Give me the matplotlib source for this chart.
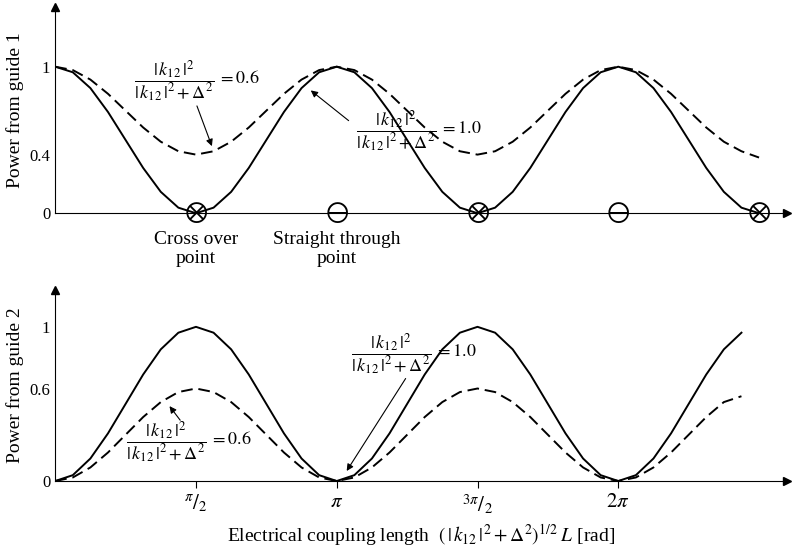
import numpy as np
import matplotlib.pyplot as plt

plt.rcParams['font.family'] = ['Liberation Serif', 'DejaVu Serif']
plt.rcParams['mathtext.fontset'] = 'stix'

# values read at steps of pi/16
step = np.pi / 16
top_solid = [1, .962, .854, .691, .5, .309, .146, .038, 0, .038, .146, .309, .5, .691, .854, .962,
             1, .962, .854, .691, .5, .309, .146, .038, 0, .038, .146, .309, .5, .691, .854, .962,
             1, .962, .854, .691, .5, .309, .146, .038, 0]
top_dash = [1, .977, .912, .815, .7, .585, .488, .423, .4, .423, .488, .585, .7, .815, .912, .977,
            1, .977, .912, .815, .7, .585, .488, .423, .4, .423, .488, .585, .7, .815, .912, .977,
            1, .977, .912, .815, .7, .585, .488, .423, .38]
bot_solid = [0, .038, .146, .309, .5, .691, .854, .962, 1, .962, .854, .691, .5, .309, .146, .038,
             0, .038, .146, .309, .5, .691, .854, .962, 1, .962, .854, .691, .5, .309, .146, .038,
             0, .038, .146, .309, .5, .691, .854, .962]
bot_dash = [0, .023, .088, .185, .3, .415, .512, .577, .6, .577, .512, .415, .3, .185, .088, .023,
            0, .023, .088, .185, .3, .415, .512, .577, .6, .577, .512, .415, .3, .185, .088, .023,
            0, .023, .088, .185, .3, .415, .512, .55]
cross_x = [0.5, 1.5, 2.5]      # in units of pi
through_x = [1.0, 2.0]
tick_x = [0.5, 1.0, 1.5, 2.0]
tick_lab = [r'$^{\pi}/_{2}$', r'$\pi$', r'$^{3\pi}/_{2}$', r'$2\pi$']

frac = r'$\dfrac{|\,k_{12}\,|^2}{|\,k_{12}\,|^2+\Delta^2}$'

fig = plt.figure(figsize=(8, 5.51), dpi=100)
ax1 = fig.add_axes([0.069, 0.613, 0.915, 0.375])
ax2 = fig.add_axes([0.069, 0.127, 0.915, 0.347])

def style(ax, ytop):
    ax.set_xlim(0, 2.6 * np.pi)
    ax.set_ylim(0, ytop)
    for s in ['top', 'right']:
        ax.spines[s].set_visible(False)
    ax.plot(1, 0, '>k', transform=ax.get_yaxis_transform(), clip_on=False, ms=6)
    ax.plot(0, 1, '^k', transform=ax.get_xaxis_transform(), clip_on=False, ms=6)
    ax.tick_params(direction='in', length=0, labelsize=12)

xt = np.arange(len(top_solid)) * step
ax1.plot(xt, top_solid, 'k-', lw=1.4, solid_joinstyle='round')
ax1.plot(xt, top_dash, 'k--', lw=1.4, dashes=(6, 3))
style(ax1, 1.41)
ax1.set_xticks([])
ax1.set_yticks([0, 0.4, 1])
ax1.set_yticklabels(['0', '0.4', '1'])
ax1.set_ylabel('Power from guide 1', fontsize=14)
for c in cross_x:
    ax1.text(c * np.pi, 0, r'$\otimes$', fontsize=20, ha='center', va='center', clip_on=False)
for c in through_x:
    ax1.text(c * np.pi, 0, r'$\ominus$', fontsize=20, ha='center', va='center', clip_on=False)
ax1.text(0.5 * np.pi, -0.12, 'Cross over\npoint', ha='center', va='top', fontsize=14)
ax1.text(1.0 * np.pi, -0.12, 'Straight through\npoint', ha='center', va='top', fontsize=14)
ax1.text(0.28 * np.pi, 0.9, frac + r'$\;= 0.6$', fontsize=13, va='center')
ax1.annotate('', xy=(0.56 * np.pi, 0.44), xytext=(0.5 * np.pi, 0.75),
             arrowprops=dict(arrowstyle='-|>', color='k', lw=0.8))
ax1.text(1.07 * np.pi, 0.56, frac + r'$\;= 1.0$', fontsize=13, va='center')
ax1.annotate('', xy=(0.9 * np.pi, 0.85), xytext=(1.05 * np.pi, 0.62),
             arrowprops=dict(arrowstyle='-|>', color='k', lw=0.8))

xb = np.arange(len(bot_solid)) * step
ax2.plot(xb, bot_solid, 'k-', lw=1.4, solid_joinstyle='round')
ax2.plot(xb, bot_dash, 'k--', lw=1.4, dashes=(6, 3))
style(ax2, 1.24)
ax2.set_xticks([t * np.pi for t in tick_x])
ax2.set_xticklabels(tick_lab, fontsize=15)
ax2.tick_params(axis='x', length=5, direction='out')
ax2.set_yticks([0, 0.6, 1])
ax2.set_yticklabels(['0', '0.6', '1'])
ax2.set_ylabel('Power from guide 2', fontsize=14)
ax2.set_xlabel(r'Electrical coupling length  $(\,|\,k_{12}\,|^2+\Delta^2)^{1/2}\;L$ [rad]', fontsize=14)
ax2.text(0.25 * np.pi, 0.25, frac + r'$\;= 0.6$', fontsize=13, va='center')
ax2.annotate('', xy=(0.4 * np.pi, 0.5), xytext=(0.45 * np.pi, 0.38),
             arrowprops=dict(arrowstyle='-|>', color='k', lw=0.8))
ax2.text(1.05 * np.pi, 0.82, frac + r'$\;= 1.0$', fontsize=13, va='center')
ax2.annotate('', xy=(1.03 * np.pi, 0.05), xytext=(1.25 * np.pi, 0.68),
             arrowprops=dict(arrowstyle='-|>', color='k', lw=0.8))

fig.savefig('out.png', dpi=100)
